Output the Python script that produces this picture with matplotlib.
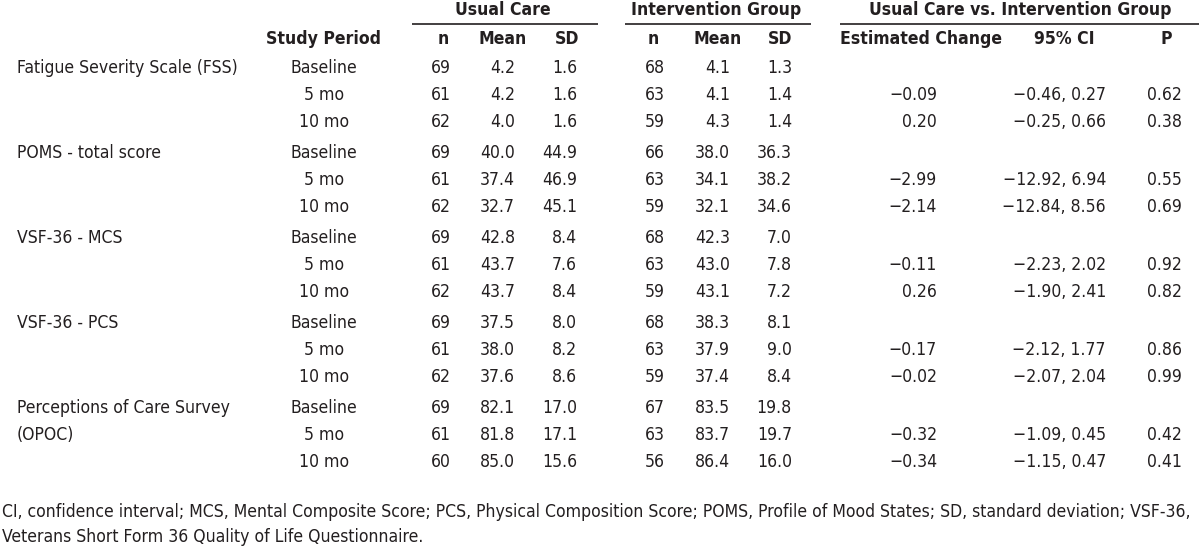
import matplotlib

matplotlib.use("Agg")
import matplotlib.pyplot as plt  # noqa: E402
from matplotlib import font_manager as fm  # noqa: E402

# --- table data -------------------------------------------------------------
measures = [
    ["Fatigue Severity Scale (FSS)"],
    ["POMS - total score"],
    ["VSF-36 - MCS"],
    ["VSF-36 - PCS"],
    ["Perceptions of Care Survey", "(OPOC)"],
]
periods = ["Baseline", "5 mo", "10 mo"]

uc_n = [[69, 61, 62], [69, 61, 62], [69, 61, 62], [69, 61, 62], [69, 61, 60]]
uc_mean = [[4.2, 4.2, 4.0], [40.0, 37.4, 32.7], [42.8, 43.7, 43.7],
           [37.5, 38.0, 37.6], [82.1, 81.8, 85.0]]
uc_sd = [[1.6, 1.6, 1.6], [44.9, 46.9, 45.1], [8.4, 7.6, 8.4],
         [8.0, 8.2, 8.6], [17.0, 17.1, 15.6]]

ig_n = [[68, 63, 59], [66, 63, 59], [68, 63, 59], [68, 63, 59], [67, 63, 56]]
ig_mean = [[4.1, 4.1, 4.3], [38.0, 34.1, 32.1], [42.3, 43.0, 43.1],
           [38.3, 37.9, 37.4], [83.5, 83.7, 86.4]]
ig_sd = [[1.3, 1.4, 1.4], [36.3, 38.2, 34.6], [7.0, 7.8, 7.2],
         [8.1, 9.0, 8.4], [19.8, 19.7, 16.0]]

# estimated change / CI / P only for 5 mo and 10 mo
est_change = [[-0.09, 0.20], [-2.99, -2.14], [-0.11, 0.26], [-0.17, -0.02], [-0.32, -0.34]]
ci_low = [[-0.46, -0.25], [-12.92, -12.84], [-2.23, -1.90], [-2.12, -2.07], [-1.09, -1.15]]
ci_high = [[0.27, 0.66], [6.94, 8.56], [2.02, 2.41], [1.77, 2.04], [0.45, 0.47]]
p_vals = [[0.62, 0.38], [0.55, 0.69], [0.92, 0.82], [0.86, 0.99], [0.42, 0.41]]

footnote = [
    "CI, confidence interval; MCS, Mental Composite Score; PCS, Physical Composition Score; "
    "POMS, Profile of Mood States; SD, standard deviation; VSF-36,",
    "Veterans Short Form 36 Quality of Life Questionnaire.",
]

# narrow sans if there is one, else plain Liberation Sans
names = {f.name for f in fm.fontManager.ttflist}
stretch = "normal"
if "Liberation Sans Narrow" in names:
    fam = ["Liberation Sans Narrow", "DejaVu Sans"]
elif any(f.name == "DejaVu Sans" and f.stretch == "condensed" for f in fm.fontManager.ttflist):
    fam = ["DejaVu Sans", "DejaVu Sans"]
    stretch = "condensed"
else:
    fam = ["Liberation Sans", "DejaVu Sans"]
plt.rcParams["font.family"] = fam
plt.rcParams["font.stretch"] = stretch


def num(v, d):
    return f"{v:.{d}f}".replace("-", "\u2212")


TXT = "#231f20"

fig = plt.figure(figsize=(12, 5.49), dpi=100)
ax = fig.add_axes([0, 0, 1, 1])
ax.set_xlim(0, 1200)
ax.set_ylim(549, 0)
ax.axis("off")

# size the font so the footnote's first line spans the page like the original
renderer = fig.canvas.get_renderer()
probe = ax.text(2, 512, footnote[0], fontsize=12)
w = probe.get_window_extent(renderer).width
probe.remove()
FS = 12 * 1193 / w

# column anchors (pixel x)
X_LABEL = 17
X_PERIOD = 324
X_UC = [451, 515, 577]
X_IG = [665, 730, 792]
X_EST, X_CI, X_P = 937, 1106, 1182

# group headers + rules
groups = [("Usual Care", 412, 598), ("Intervention Group", 625, 811),
          ("Usual Care vs. Intervention Group", 840, 1199)]
group_cx = [503, 716, 1020]
for (name, x0, x1), cx in zip(groups, group_cx):
    ax.text(cx, 10, name, ha="center", va="center",
            fontsize=FS, fontweight="bold", color=TXT)
    ax.plot([x0, x1], [23.5, 23.5], color=TXT, lw=1.2, solid_capstyle="butt")

hy = 39
ax.text(X_PERIOD, hy, "Study Period", ha="center", va="center", fontsize=FS,
        fontweight="bold", color=TXT)
for cxs in ([443, 503, 567], [653, 718, 780]):
    for x, h in zip(cxs, ["n", "Mean", "SD"]):
        ax.text(x, hy, h, ha="center", va="center", fontsize=FS,
                fontweight="bold", color=TXT)
for x, h in zip([921, 1064, 1166], ["Estimated Change", "95% CI", "P"]):
    ax.text(x, hy, h, ha="center", va="center", fontsize=FS,
            fontweight="bold", color=TXT)

# body
for g, label_lines in enumerate(measures):
    for i, per in enumerate(periods):
        y = 68 + g * 85 + i * 26.8
        if i < len(label_lines):
            ax.text(X_LABEL, y, label_lines[i], ha="left", va="center",
                    fontsize=FS, color=TXT)
        ax.text(X_PERIOD, y, per, ha="center", va="center", fontsize=FS, color=TXT)
        vals_uc = [str(uc_n[g][i]), num(uc_mean[g][i], 1), num(uc_sd[g][i], 1)]
        vals_ig = [str(ig_n[g][i]), num(ig_mean[g][i], 1), num(ig_sd[g][i], 1)]
        for x, v in zip(X_UC, vals_uc):
            ax.text(x, y, v, ha="right", va="center", fontsize=FS, color=TXT)
        for x, v in zip(X_IG, vals_ig):
            ax.text(x, y, v, ha="right", va="center", fontsize=FS, color=TXT)
        if i > 0:
            k = i - 1
            ax.text(X_EST, y, num(est_change[g][k], 2), ha="right", va="center",
                    fontsize=FS, color=TXT)
            ax.text(X_CI, y, f"{num(ci_low[g][k], 2)}, {num(ci_high[g][k], 2)}",
                    ha="right", va="center", fontsize=FS, color=TXT)
            ax.text(X_P, y, num(p_vals[g][k], 2), ha="right", va="center",
                    fontsize=FS, color=TXT)

for j, line in enumerate(footnote):
    ax.text(2, 512 + j * 25, line, ha="left", va="center",
            fontsize=FS, color=TXT)

fig.savefig("out.png", dpi=100)
